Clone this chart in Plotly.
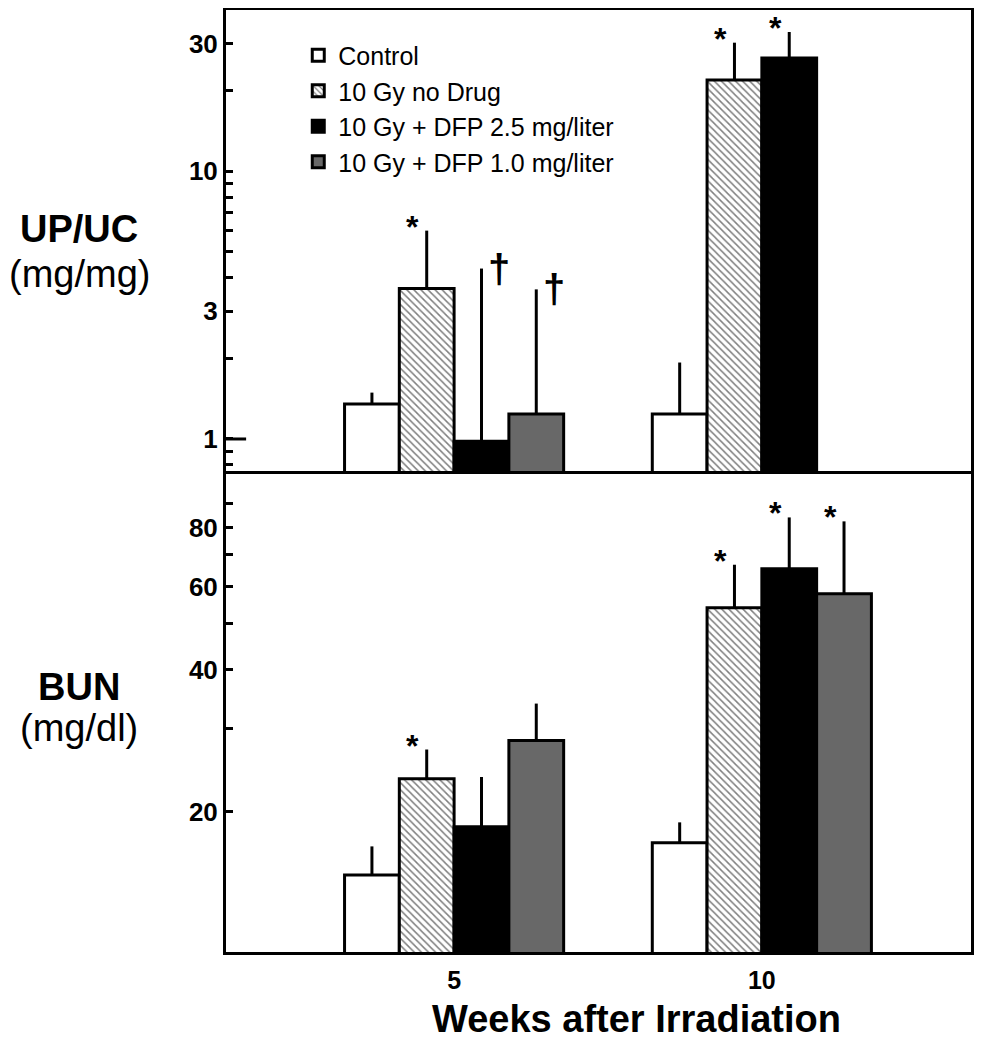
import math
import plotly.graph_objects as go
from plotly.subplots import make_subplots

# ---------------- data ----------------
weeks = [5, 10]
week_labels = ["5", "10"]
series_names = ["Control", "10 Gy no Drug", "10 Gy + DFP 2.5 mg/liter", "10 Gy + DFP 1.0 mg/liter"]

# UP/UC (mg/mg), mean and upper error
upuc_control = [1.35, 1.24]
upuc_control_err = [0.14, 0.69]
upuc_nodrug = [3.65, 21.9]
upuc_nodrug_err = [2.35, 8.3]
upuc_dfp25 = [0.98, 26.5]
upuc_dfp25_err = [3.35, 6.6]
upuc_dfp10 = [1.24, None]
upuc_dfp10_err = [2.38, None]

# BUN (mg/dl), mean and upper error
bun_control = [14.7, 17.2]
bun_control_err = [2.2, 1.8]
bun_nodrug = [23.5, 54.1]
bun_nodrug_err = [3.6, 12.6]
bun_dfp25 = [18.6, 65.4]
bun_dfp25_err = [5.1, 18.6]
bun_dfp10 = [28.3, 57.9]
bun_dfp10_err = [5.6, 24.5]

# significance markers
upuc_marks = [["", ""], ["*", "*"], ["\u2020", "*"], ["\u2020", ""]]
bun_marks = [["", ""], ["*", "*"], ["", "*"], ["", "*"]]

# axis ticks
upuc_ticks = [1, 3, 10, 30]
upuc_minor = [0.8, 0.9, 2, 4, 5, 6, 7, 8, 9, 20]
upuc_long = [1, 10]
bun_ticks = [20, 40, 60, 80]
bun_minor = [30, 50, 70, 90]
bun_long = [100]

# ---------------- style ----------------
FONT = "Arial, Liberation Sans, Helvetica, sans-serif"
BARGAP = 0.288
fills = ["white", "white", "black", "#686868"]
patterns = [None, dict(shape="\\", fgcolor="black", bgcolor="white", size=5, solidity=0.3), None, None]

fig = make_subplots(rows=2, cols=1, shared_xaxes=True, vertical_spacing=0,
                    row_heights=[464, 478])

upuc_vals = [upuc_control, upuc_nodrug, upuc_dfp25, upuc_dfp10]
upuc_errs = [upuc_control_err, upuc_nodrug_err, upuc_dfp25_err, upuc_dfp10_err]
bun_vals = [bun_control, bun_nodrug, bun_dfp25, bun_dfp10]
bun_errs = [bun_control_err, bun_nodrug_err, bun_dfp25_err, bun_dfp10_err]

for row, vals, errs in [(1, upuc_vals, upuc_errs), (2, bun_vals, bun_errs)]:
    for i in range(4):
        marker = dict(color=fills[i], line=dict(color="black", width=3))
        if patterns[i]:
            marker["pattern"] = patterns[i]
        fig.add_trace(go.Bar(
            x=weeks, y=vals[i], name=series_names[i],
            marker=marker, legendgroup=series_names[i], showlegend=(row == 1),
            error_y=dict(type="data", symmetric=False, array=errs[i],
                         arrayminus=[0 for _ in errs[i]], color="black",
                         thickness=3, width=0),
        ), row=row, col=1)

# significance annotations
bw = (1 - BARGAP) * (weeks[1] - weeks[0]) / 4
annotations = []
for yref, vals, errs, marks in [("y", upuc_vals, upuc_errs, upuc_marks),
                                ("y2", bun_vals, bun_errs, bun_marks)]:
    for i in range(4):
        for j, w in enumerate(weeks):
            m = marks[i][j]
            if not m or vals[i][j] is None:
                continue
            xc = w + (i - 1.5) * bw
            ytop = math.log10(vals[i][j] + errs[i][j])
            if m == "*":
                annotations.append(dict(x=xc, y=ytop, xref="x", yref=yref, text="<b>*</b>",
                                        showarrow=False, xshift=-14, yshift=-16,
                                        xanchor="center", yanchor="bottom",
                                        font=dict(family=FONT, size=32, color="black")))
            else:
                annotations.append(dict(x=xc, y=ytop, xref="x", yref=yref, text="<b>" + m + "</b>",
                                        showarrow=False, xshift=18, yshift=0,
                                        xanchor="center", yanchor="middle",
                                        font=dict(family=FONT, size=40, color="black")))

# y-axis titles
ytitle = dict(xref="paper", yref="paper", showarrow=False, x=-0.197,
              xanchor="center", yanchor="middle")
annotations += [
    dict(text="<b>UP/UC</b>", y=0.768, font=dict(family=FONT, size=38, color="black"), **ytitle),
    dict(text="(mg/mg)", y=0.72, font=dict(family=FONT, size=38, color="black"), **ytitle),
    dict(text="<b>BUN</b>", y=0.281, font=dict(family=FONT, size=38, color="black"), **ytitle),
    dict(text="(mg/dl)", y=0.238, font=dict(family=FONT, size=38, color="black"), **ytitle),
    # x-axis title
    dict(text="<b>Weeks after Irradiation</b>", x=0.551, y=-0.0715, xref="paper", yref="paper",
         showarrow=False, xanchor="center", yanchor="middle",
         font=dict(family=FONT, size=38, color="black")),
]

# long major ticks
shapes = []
for yref, vals in [("y", upuc_long), ("y2", bun_long)]:
    for v in vals:
        shapes.append(dict(type="line", xref="x domain", x0=0, x1=0.027,
                           yref=yref, y0=math.log10(v), y1=math.log10(v),
                           line=dict(color="black", width=3)))

axis_common = dict(showline=True, linecolor="black", linewidth=3,
                   showgrid=False, zeroline=False)

fig.update_layout(
    width=968, height=1034,
    margin=dict(l=218, r=2, t=2, b=90),
    paper_bgcolor="white", plot_bgcolor="white",
    barmode="group", bargap=BARGAP, bargroupgap=0,
    font=dict(family=FONT, color="black"),
    showlegend=True,
    legend=dict(x=0.097, y=0.976, xanchor="left", yanchor="top",
                font=dict(family=FONT, size=25, color="black"),
                bgcolor="rgba(0,0,0,0)", tracegroupgap=0),
    annotations=annotations,
    shapes=shapes,
)

fig.update_xaxes(range=[1.294, 13.398], ticks="", **axis_common)
fig.update_xaxes(showticklabels=False, side="top", mirror=False, row=1, col=1)
fig.update_xaxes(tickmode="array", tickvals=weeks, ticktext=week_labels, mirror=True,
                 tickfont=dict(family=FONT, size=25, color="black", weight="bold"),
                 ticklabelstandoff=4,
                 row=2, col=1)

ytick_common = dict(type="log", ticks="inside", ticklen=7, tickwidth=2.5, tickcolor="black",
                    tickfont=dict(family=FONT, size=26, color="black", weight="bold"),
                    tickmode="array", mirror=True, **axis_common)
fig.update_yaxes(range=[math.log10(0.74), math.log10(40)], tickvals=upuc_ticks,
                 ticktext=[str(t) for t in upuc_ticks],
                 minor=dict(tickmode="array", tickvals=upuc_minor, ticks="inside", ticklen=7,
                            tickwidth=2.5, tickcolor="black", showgrid=False),
                 row=1, col=1, **ytick_common)
fig.update_yaxes(range=[math.log10(10.1), math.log10(103.8)], tickvals=bun_ticks,
                 ticktext=[str(t) for t in bun_ticks],
                 minor=dict(tickmode="array", tickvals=bun_minor, ticks="inside", ticklen=7,
                            tickwidth=2.5, tickcolor="black", showgrid=False),
                 row=2, col=1, **ytick_common)

fig.write_html("out.html")
